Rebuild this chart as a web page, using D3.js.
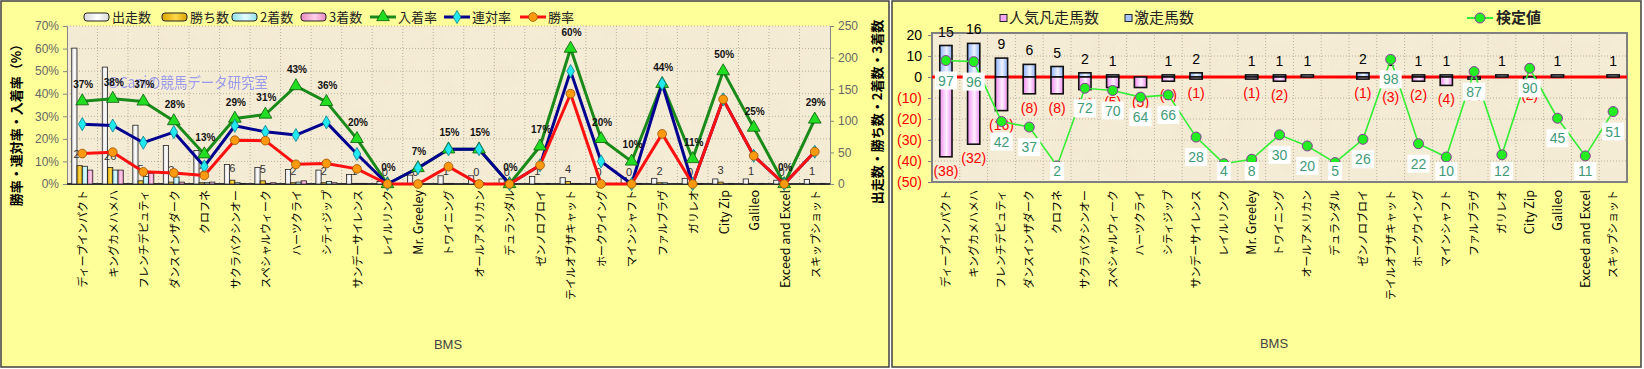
<!DOCTYPE html>
<html>
<head>
<meta charset="utf-8">
<script src="https://cdn.jsdelivr.net/npm/d3@7"></script>
<style>
  body { margin: 0; background: #fff; }
  svg { display: block; }
</style>
</head>
<body>
<div id="viz"></div>
<script>
// ---- data ----
const bms = ['ディープインパクト','キングカメハメハ','フレンチデピュティ','ダンスインザダーク','クロフネ',
  'サクラバクシンオー','スペシャルウィーク','ハーツクライ','シティジップ','サンデーサイレンス','レイルリンク',
  'Mr. Greeley','トワイニング','オールアメリカン','デュランダル','ゼンノロブロイ','テイルオブザキャット',
  'ホークウイング','マインシャフト','ファルブラヴ','ガリレオ','City  Zip','Galileo','Exceed  and  Excel','スキップショット'];

// left chart: counts (right axis)
const runs    = [215, 185, 93, 61, 53, 31, 26, 23, 22, 15, 4, 14, 13, 13, 8, 12, 10, 10, 10, 9, 9, 8, 8, 6, 7];
const wins    = [29, 26, 5, 3, 2, 6, 5, 2, 2, 1, 0, 0, 1, 0, 0, 1, 4, 0, 0, 2, 0, 3, 1, 0, 1];
const seconds = [28, 22, 12, 11, 2, 2, 1, 3, 4, 1, 0, 1, 1, 2, 0, 0, 1, 1, 0, 2, 0, 0, 0, 0, 0];
const thirds  = [22, 22, 17, 3, 3, 1, 2, 5, 2, 1, 0, 0, 0, 0, 0, 1, 1, 1, 1, 0, 1, 1, 1, 0, 1];

// left chart: rates in % (left axis)
const placeRate   = [36.7, 37.8, 36.6, 27.9, 13.2, 29.0, 30.8, 43.4, 36.4, 20.0, 0, 7.1, 15.4, 15.4, 0, 16.7, 60, 20, 10, 44.4, 11.1, 50, 25, 0, 28.6];
const rentaiRate  = [26.5, 25.9, 18.3, 23.0, 7.8, 25.8, 23.1, 21.7, 27.3, 13.3, 0, 7.1, 15.4, 15.4, 0, 8.3, 50, 10, 0, 44.4, 0, 37.5, 12.5, 0, 14.3];
const winRate     = [13.5, 14.1, 5.4, 4.9, 3.8, 19.4, 19.2, 8.7, 9.1, 6.7, 0, 0, 7.7, 0, 0, 8.3, 40, 0, 0, 22.2, 0, 37.5, 12.5, 0, 14.3];

const pctTicks = [0, 10, 20, 30, 40, 50, 60, 70];
const cntTicks = [0, 50, 100, 150, 200, 250];

// right chart
const gekisou = [15, 16, 9, 6, 5, 2, 1, 0, 1, 2, 0, 1, 1, 1, 0, 2, 1, 1, 1, 0, 1, 0, 1, 0, 1];
const bonsou  = [38, 32, 16, 8, 8, 6, 5, 5, 2, 1, 0, 1, 2, 0, 0, 1, 3, 2, 4, 1, 0, 2, 0, 0, 0];
const kentei  = [97, 96, 42, 37, 2, 72, 70, 64, 66, 28, 4, 8, 30, 20, 5, 26, 98, 22, 10, 87, 12, 90, 45, 11, 51];
const rTicks  = [20, 10, 0, -10, -20, -30, -40, -50];

const jp = '"Noto Sans CJK JP", sans-serif';
const ar = '"Liberation Sans", Arial, sans-serif';
// latin names get a slightly larger font, like the original
var labSize = function(d) { return /^[A-Za-z]/.test(d) ? '12.5px' : '11px'; };

var svg = d3.select('#viz').append('svg')
  .attr('width', 1644).attr('height', 369);

var defs = svg.append('defs');
// paper texture for plot areas
var f = defs.append('filter').attr('id', 'paper').attr('x', 0).attr('y', 0).attr('width', 1).attr('height', 1);
f.append('feTurbulence').attr('type', 'fractalNoise').attr('baseFrequency', 0.035).attr('numOctaves', 3).attr('seed', 4);
f.append('feColorMatrix').attr('type', 'matrix')
  .attr('values', '0 0 0 0 0.86  0 0 0 0 0.78  0 0 0 0 0.6  0 0 0 1.1 -0.42');

function grad(id, c1, c2) {
  var g = defs.append('linearGradient').attr('id', id).attr('x1', 0).attr('x2', 1).attr('y1', 0).attr('y2', 0);
  g.append('stop').attr('offset', '0%').attr('stop-color', c1);
  g.append('stop').attr('offset', '55%').attr('stop-color', c2);
  g.append('stop').attr('offset', '100%').attr('stop-color', c1);
}
grad('gBlue', '#8cb0ff', '#eef3ff');
grad('gPink', '#ee8cee', '#fff0ff');
grad('gWhite', '#d8d8d8', '#ffffff');
grad('gGold', '#d9a400', '#ffd84a');
grad('gCyan', '#8fe0ea', '#e4fcff');
grad('gRose', '#e888c0', '#ffd0ea');

// panels
svg.append('rect').attr('x', 1).attr('y', 1).attr('width', 888).attr('height', 366)
  .attr('fill', '#ffff99').attr('stroke', '#404040').attr('stroke-width', 1.5);
svg.append('rect').attr('x', 892).attr('y', 1).attr('width', 749).attr('height', 366)
  .attr('fill', '#ffff99').attr('stroke', '#404040').attr('stroke-width', 1.5);

// ================= LEFT CHART =================
var L = {left: 67, right: 830, top: 26, bottom: 184};
var xL = d3.scaleBand().domain(bms).range([L.left, L.right]);
var xSub = d3.scaleBand().domain(['runs', 'wins', 'seconds', 'thirds'])
  .range([0, xL.bandwidth()]).paddingOuter(0.9);
var yPct = d3.scaleLinear().domain([0, 70]).range([L.bottom, L.top]);
var yCnt = d3.scaleLinear().domain([0, 250]).range([L.bottom, L.top]);
var cx = function(i) { return xL(bms[i]) + xL.bandwidth() / 2; };

var gl = svg.append('g');
gl.append('rect').attr('x', L.left).attr('y', L.top).attr('width', L.right - L.left).attr('height', L.bottom - L.top)
  .attr('fill', '#f5ecd6');
gl.append('rect').attr('x', L.left).attr('y', L.top).attr('width', L.right - L.left).attr('height', L.bottom - L.top)
  .attr('filter', 'url(#paper)').attr('opacity', 0.6);

// grid
gl.append('g').selectAll('line').data(pctTicks.slice(1)).join('line')
  .attr('x1', L.left).attr('x2', L.right).attr('y1', d => yPct(d)).attr('y2', d => yPct(d))
  .attr('stroke', '#b8b0a0').attr('stroke-dasharray', '1,2');
gl.append('g').selectAll('line').data(bms.slice(1)).join('line')
  .attr('x1', d => xL(d)).attr('x2', d => xL(d)).attr('y1', L.top).attr('y2', L.bottom)
  .attr('stroke', '#b8b0a0').attr('stroke-dasharray', '1,2');

// axes
var axL = gl.append('g').attr('transform', 'translate(' + L.left + ',0)')
  .call(d3.axisLeft(yPct).tickValues(pctTicks).tickFormat(d => d + '%').tickSize(4).tickPadding(4));
var axR = gl.append('g').attr('transform', 'translate(' + L.right + ',0)')
  .call(d3.axisRight(yCnt).tickValues(cntTicks).tickSize(4).tickPadding(4));
[axL, axR].forEach(function(a) {
  a.selectAll('path,line').attr('stroke', '#888');
  a.selectAll('text').attr('fill', '#666').style('font-family', ar).style('font-size', '12px');
});
gl.append('line').attr('x1', L.left).attr('x2', L.right).attr('y1', L.bottom).attr('y2', L.bottom)
  .attr('stroke', '#333').attr('stroke-width', 2);

// bars
var barSeries = [
  {key: 'runs', values: runs, fill: 'url(#gWhite)'},
  {key: 'wins', values: wins, fill: 'url(#gGold)'},
  {key: 'seconds', values: seconds, fill: 'url(#gCyan)'},
  {key: 'thirds', values: thirds, fill: 'url(#gRose)'}
];
barSeries.forEach(function(s) {
  gl.append('g').selectAll('rect').data(s.values).join('rect')
    .attr('x', (d, i) => xL(bms[i]) + xSub(s.key))
    .attr('width', xSub.bandwidth())
    .attr('y', d => yCnt(d))
    .attr('height', d => yCnt(0) - yCnt(d))
    .attr('fill', s.fill)
    .attr('stroke', '#222').attr('stroke-width', 0.8);
});

// watermark
gl.append('text').attr('x', 108).attr('y', 88)
  .attr('textLength', 160).attr('lengthAdjust', 'spacingAndGlyphs')
  .attr('fill', '#8a8cf0').attr('opacity', 0.85)
  .style('font-family', jp).style('font-size', '15px')
  .text('©Caniの競馬データ研究室');

// win-count labels
gl.append('g').selectAll('text').data(wins).join('text')
  .attr('x', (d, i) => xL(bms[i]) + xSub('wins') + xSub.bandwidth() / 2)
  .attr('y', d => yCnt(d) - 8)
  .attr('text-anchor', 'middle')
  .attr('fill', '#333')
  .style('font-family', ar).style('font-size', '11px')
  .text(d => d);

// rate lines
var lineSeries = [
  {values: placeRate, color: '#1a8a1a', sym: d3.symbolTriangle, size: 70, mfill: '#22dd22', mstroke: '#0a5a0a'},
  {values: rentaiRate, color: '#000090', sym: d3.symbolDiamond, size: 50, mfill: '#22e8f0', mstroke: '#0a7f8f'},
  {values: winRate, color: '#ff1010', sym: d3.symbolCircle, size: 60, mfill: '#ff9a10', mstroke: '#9a5000'}
];
lineSeries.forEach(function(s) {
  gl.append('path').datum(s.values)
    .attr('d', d3.line().x((d, i) => cx(i)).y(d => yPct(d)))
    .attr('fill', 'none').attr('stroke', s.color).attr('stroke-width', 3).attr('stroke-linejoin', 'round');
});
lineSeries.forEach(function(s) {
  gl.append('g').selectAll('path').data(s.values).join('path')
    .attr('transform', (d, i) => 'translate(' + cx(i) + ',' + yPct(d) + ')')
    .attr('d', d3.symbol().type(s.sym).size(s.size))
    .attr('fill', s.mfill).attr('stroke', s.mstroke).attr('stroke-width', 0.8);
});

// place-rate labels
gl.append('g').selectAll('text').data(placeRate).join('text')
  .attr('x', (d, i) => cx(i) + 1)
  .attr('y', d => yPct(d) - 13)
  .attr('text-anchor', 'middle')
  .attr('fill', '#111')
  .style('font-family', ar).style('font-size', '10px').style('font-weight', 'bold')
  .text(d => Math.round(d) + '%');

// category labels
gl.append('g').selectAll('text').data(bms).join('text')
  .attr('transform', (d, i) => 'translate(' + (cx(i) + 1) + ',190) rotate(-90)')
  .attr('text-anchor', 'end').attr('dy', '0.35em')
  .attr('fill', '#000')
  .style('font-family', jp).style('font-size', labSize)
  .text(d => d);

// axis titles
gl.append('text').attr('transform', 'translate(16,122) rotate(-90)')
  .attr('text-anchor', 'middle').attr('dy', '0.35em')
  .style('font-family', jp).style('font-size', '13px').style('font-weight', 'bold')
  .text('勝率・連対率・入着率（%）');
gl.append('text').attr('transform', 'translate(877,112) rotate(-90)')
  .attr('text-anchor', 'middle').attr('dy', '0.35em')
  .style('font-family', jp).style('font-size', '13px').style('font-weight', 'bold')
  .text('出走数・勝ち数・2着数・3着数');
gl.append('text').attr('x', 448).attr('y', 349).attr('text-anchor', 'middle')
  .attr('fill', '#444').style('font-family', ar).style('font-size', '13px').text('BMS');

// legend (left)
var legL = [
  {name: '出走数', type: 'bar', fill: 'url(#gWhite)', x: 84},
  {name: '勝ち数', type: 'bar', fill: 'url(#gGold)', x: 162},
  {name: '2着数', type: 'bar', fill: 'url(#gCyan)', x: 232},
  {name: '3着数', type: 'bar', fill: 'url(#gRose)', x: 301},
  {name: '入着率', type: 'line', s: lineSeries[0], x: 370},
  {name: '連対率', type: 'line', s: lineSeries[1], x: 444},
  {name: '勝率', type: 'line', s: lineSeries[2], x: 520}
];
var lg = gl.append('g').selectAll('g').data(legL).join('g')
  .attr('transform', d => 'translate(' + d.x + ',17)');
lg.filter(d => d.type === 'bar').append('rect')
  .attr('x', 0).attr('y', -4).attr('width', 25).attr('height', 8).attr('rx', 3)
  .attr('fill', d => d.fill).attr('stroke', '#222');
lg.filter(d => d.type === 'line').append('line')
  .attr('x1', 0).attr('x2', 26).attr('stroke', d => d.s.color).attr('stroke-width', 3);
lg.filter(d => d.type === 'line').append('path')
  .attr('transform', 'translate(13,0)')
  .attr('d', d => d3.symbol().type(d.s.sym).size(d.s.size)())
  .attr('fill', d => d.s.mfill).attr('stroke', d => d.s.mstroke).attr('stroke-width', 0.8);
lg.append('text').attr('x', 28).attr('dy', '0.35em')
  .attr('fill', '#222').style('font-family', jp).style('font-size', '13px')
  .text(d => d.name);

// ================= RIGHT CHART =================
var R = {left: 932, right: 1627, top: 35, bottom: 182};
var xR = d3.scaleBand().domain(bms).range([R.left, R.right]).paddingInner(0.56).paddingOuter(0.28);
var yR = d3.scaleLinear().domain([-50, 20]).range([R.bottom, R.top]);
var yK = d3.scaleLinear().domain([-12.5, 120]).range([R.bottom, R.top]);
var xBand = d3.scaleBand().domain(bms).range([R.left, R.right]);
var rcx = function(i) { return xBand(bms[i]) + xBand.bandwidth() / 2; };

var gr = svg.append('g');
gr.append('rect').attr('x', R.left).attr('y', R.top - 2).attr('width', R.right - R.left).attr('height', R.bottom - R.top + 2)
  .attr('fill', '#f5ecd6');
gr.append('rect').attr('x', R.left).attr('y', R.top - 2).attr('width', R.right - R.left).attr('height', R.bottom - R.top + 2)
  .attr('filter', 'url(#paper)').attr('opacity', 0.6);

gr.append('g').selectAll('line').data(rTicks.slice(1, -1)).join('line')
  .attr('x1', R.left).attr('x2', R.right).attr('y1', d => yR(d)).attr('y2', d => yR(d))
  .attr('stroke', '#b8b0a0').attr('stroke-dasharray', '1,2');
gr.append('g').selectAll('line').data(bms.slice(1)).join('line')
  .attr('x1', d => xBand(d)).attr('x2', d => xBand(d)).attr('y1', R.top).attr('y2', R.bottom)
  .attr('stroke', '#b8b0a0').attr('stroke-dasharray', '1,2');
gr.append('rect').attr('x', R.left).attr('y', R.top - 2).attr('width', R.right - R.left).attr('height', R.bottom - R.top + 2)
  .attr('fill', 'none').attr('stroke', '#808080').attr('stroke-width', 2);

var axRR = gr.append('g').attr('transform', 'translate(' + R.left + ',0)')
  .call(d3.axisLeft(yR).tickValues(rTicks).tickSize(4).tickPadding(6)
    .tickFormat(d => d < 0 ? '(' + (-d) + ')' : d));
axRR.select('.domain').remove();
axRR.selectAll('line').attr('stroke', '#808080');
axRR.selectAll('text').attr('fill', d => d < 0 ? '#ff0000' : '#000')
  .style('font-family', ar).style('font-size', '14px');

// zero line (under the bars)
gr.append('line').attr('x1', R.left).attr('x2', R.right).attr('y1', yR(0)).attr('y2', yR(0))
  .attr('stroke', '#ff0000').attr('stroke-width', 3);

// bars
gr.append('g').selectAll('rect').data(gekisou).join('rect')
  .attr('x', (d, i) => xR(bms[i])).attr('width', xR.bandwidth())
  .attr('y', d => yR(d)).attr('height', d => yR(0) - yR(d))
  .attr('fill', 'url(#gBlue)').attr('stroke', '#111').attr('stroke-width', 1.6)
  .attr('display', d => d > 0 ? null : 'none');
gr.append('g').selectAll('rect').data(bonsou).join('rect')
  .attr('x', (d, i) => xR(bms[i])).attr('width', xR.bandwidth())
  .attr('y', yR(0)).attr('height', d => yR(-d) - yR(0))
  .attr('fill', 'url(#gPink)').attr('stroke', '#111').attr('stroke-width', 1.6)
  .attr('display', d => d > 0 ? null : 'none');

// bar labels
gr.append('g').selectAll('text').data(gekisou).join('text')
  .attr('x', (d, i) => rcx(i)).attr('y', d => yR(d) - 9)
  .attr('text-anchor', 'middle').attr('fill', '#000')
  .style('font-family', ar).style('font-size', '14px')
  .text(d => d > 0 ? d : '');
gr.append('g').selectAll('text').data(bonsou).join('text')
  .attr('x', (d, i) => rcx(i)).attr('y', d => yR(-d) + 19)
  .attr('text-anchor', 'middle').attr('fill', '#ff0000')
  .style('font-family', ar).style('font-size', '14px')
  .text(d => d > 0 ? '(' + d + ')' : '');

// 検定値 line
gr.append('path').datum(kentei)
  .attr('d', d3.line().x((d, i) => rcx(i)).y(d => yK(d)))
  .attr('fill', 'none').attr('stroke', '#33ee33').attr('stroke-width', 1.6);
gr.append('g').selectAll('circle').data(kentei).join('circle')
  .attr('cx', (d, i) => rcx(i)).attr('cy', d => yK(d)).attr('r', 5)
  .attr('fill', '#22ee22').attr('stroke', '#8a3a9a').attr('stroke-width', 1);

var kl = gr.append('g').selectAll('g').data(kentei).join('g')
  .attr('transform', (d, i) => 'translate(' + rcx(i) + ',' + Math.min(yK(d) + 20, 171) + ')');
kl.append('rect')
  .attr('x', d => -(String(d).length * 8 + 6) / 2).attr('y', -9)
  .attr('width', d => String(d).length * 8 + 6).attr('height', 18)
  .attr('fill', '#fff');
kl.append('text').attr('text-anchor', 'middle').attr('dy', '0.36em')
  .attr('fill', '#3f9a78').style('font-family', ar).style('font-size', '14px')
  .text(d => d);

// category labels
gr.append('g').selectAll('text').data(bms).join('text')
  .attr('transform', (d, i) => 'translate(' + rcx(i) + ',190) rotate(-90)')
  .attr('text-anchor', 'end').attr('dy', '0.35em')
  .attr('fill', '#000')
  .style('font-family', jp).style('font-size', labSize)
  .text(d => d);
gr.append('text').attr('x', 1274).attr('y', 348).attr('text-anchor', 'middle')
  .attr('fill', '#444').style('font-family', ar).style('font-size', '13px').text('BMS');

// legend (right)
var legR = [
  {name: '人気凡走馬数', type: 'sq', fill: '#f4a8f4', x: 1000},
  {name: '激走馬数', type: 'sq', fill: '#a8c4ff', x: 1125},
  {name: '検定値', type: 'line', x: 1467}
];
var rg = gr.append('g').selectAll('g').data(legR).join('g')
  .attr('transform', d => 'translate(' + d.x + ',18)');
rg.filter(d => d.type === 'sq').append('rect')
  .attr('x', 0).attr('y', -3.5).attr('width', 7).attr('height', 7)
  .attr('fill', d => d.fill).attr('stroke', '#222');
rg.filter(d => d.type === 'line').append('line')
  .attr('x1', 0).attr('x2', 26).attr('stroke', '#33ee33').attr('stroke-width', 2);
rg.filter(d => d.type === 'line').append('circle')
  .attr('cx', 13).attr('r', 5).attr('fill', '#22ee22').attr('stroke', '#8a3a9a');
rg.append('text').attr('x', d => d.type === 'sq' ? 9 : 29).attr('dy', '0.36em')
  .attr('fill', '#222').style('font-family', jp).style('font-size', '15px')
  .style('font-weight', d => d.type === 'line' ? 'bold' : 'normal')
  .text(d => d.name);
</script>
</body>
</html>
